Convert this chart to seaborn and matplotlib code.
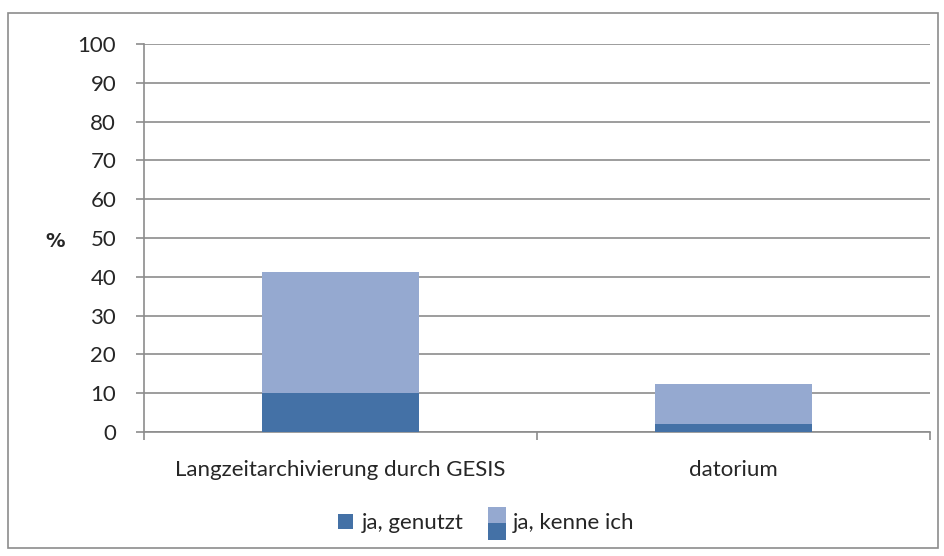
import numpy as np
import pandas as pd
import matplotlib
matplotlib.use('Agg')
import matplotlib.pyplot as plt
import seaborn as sns
from matplotlib.patches import Rectangle, Patch

# chart values
categories = ['Langzeitarchivierung durch GESIS', 'datorium']
genutzt = [10.0, 2.0]        # ja, genutzt
kenne = [31.2, 10.5]         # ja, kenne ich
yticks = list(range(0, 101, 10))

dark = '#4471A6'
light = '#95A9D0'
grey = '#8C8C8C'
fs = 16

sns.set_style('white')
plt.rcParams['font.family'] = ['Lato', 'DejaVu Sans']

df = pd.DataFrame({'cat': categories, 'genutzt': genutzt, 'kenne': kenne})
df['total'] = df.genutzt + df.kenne

fig = plt.figure(figsize=(9.44, 5.56), dpi=100)
# outer chart border
fig.patches.append(Rectangle((8 / 944, 1 - 548 / 556), 930 / 944, 535 / 556,
                             transform=fig.transFigure, fill=False,
                             edgecolor=grey, linewidth=1.2))
ax = fig.add_axes([144 / 944, 1 - 432 / 556, 786 / 944, 388 / 556])

sns.barplot(data=df, x='cat', y='total', color=light, width=0.4,
            saturation=1, ax=ax, zorder=3, linewidth=0)
sns.barplot(data=df, x='cat', y='genutzt', color=dark, width=0.4,
            saturation=1, ax=ax, zorder=4, linewidth=0)

ax.set_xlim(-0.5, 1.5)
ax.set_ylim(0, 100)
ax.set_yticks(yticks)
ax.set_yticklabels([str(v) for v in yticks], fontsize=fs)
ax.set_xlabel('')
ax.set_ylabel('')
ax.text(-0.113, 0.492, '%', transform=ax.transAxes, fontsize=14, fontweight='bold',
        family='DejaVu Sans', ha='center', va='center')
ax.grid(axis='y', color=grey, linewidth=1.2, zorder=0)
ax.set_axisbelow(True)

for s in ['top', 'right']:
    ax.spines[s].set_visible(False)
for s in ['left', 'bottom']:
    ax.spines[s].set_color(grey)
    ax.spines[s].set_linewidth(1.2)

ax.tick_params(axis='y', length=6, width=1.2, color=grey, pad=14, direction='out', left=True)
ax.tick_params(axis='x', which='major', length=0, pad=20, labelsize=fs)
ax.set_xticks([-0.5, 0.5, 1.5], minor=True)
ax.tick_params(axis='x', which='minor', length=6, width=1.2, color=grey, direction='out', bottom=True)


class SplitHandler:
    # legend key drawn as light block on top of a dark block
    def legend_artist(self, legend, orig_handle, fontsize, handlebox):
        x0, y0 = handlebox.xdescent, handlebox.ydescent
        w, h = handlebox.width, handlebox.height
        tr = handlebox.get_transform()
        top = Rectangle((x0, y0 + h * 0.4), w * 1.2, h * 1.07, facecolor=light,
                        edgecolor='none', transform=tr)
        bot = Rectangle((x0, y0 - h * 0.73), w * 1.2, h * 1.13, facecolor=dark,
                        edgecolor='none', transform=tr)
        handlebox.add_artist(top)
        handlebox.add_artist(bot)
        return top


h1 = Patch(facecolor=dark, edgecolor='none')
h2 = Patch(facecolor=light, edgecolor='none')
fig.legend([h1, h2], ['ja, genutzt', 'ja, kenne ich'], loc='center',
           bbox_to_anchor=(486 / 944, 1 - 523 / 556), ncol=2, frameon=False,
           fontsize=fs, handlelength=0.675, handleheight=0.675, handletextpad=0.4,
           columnspacing=1.1, borderpad=0, handler_map={h2: SplitHandler()})

fig.savefig('out.png', dpi=100)
